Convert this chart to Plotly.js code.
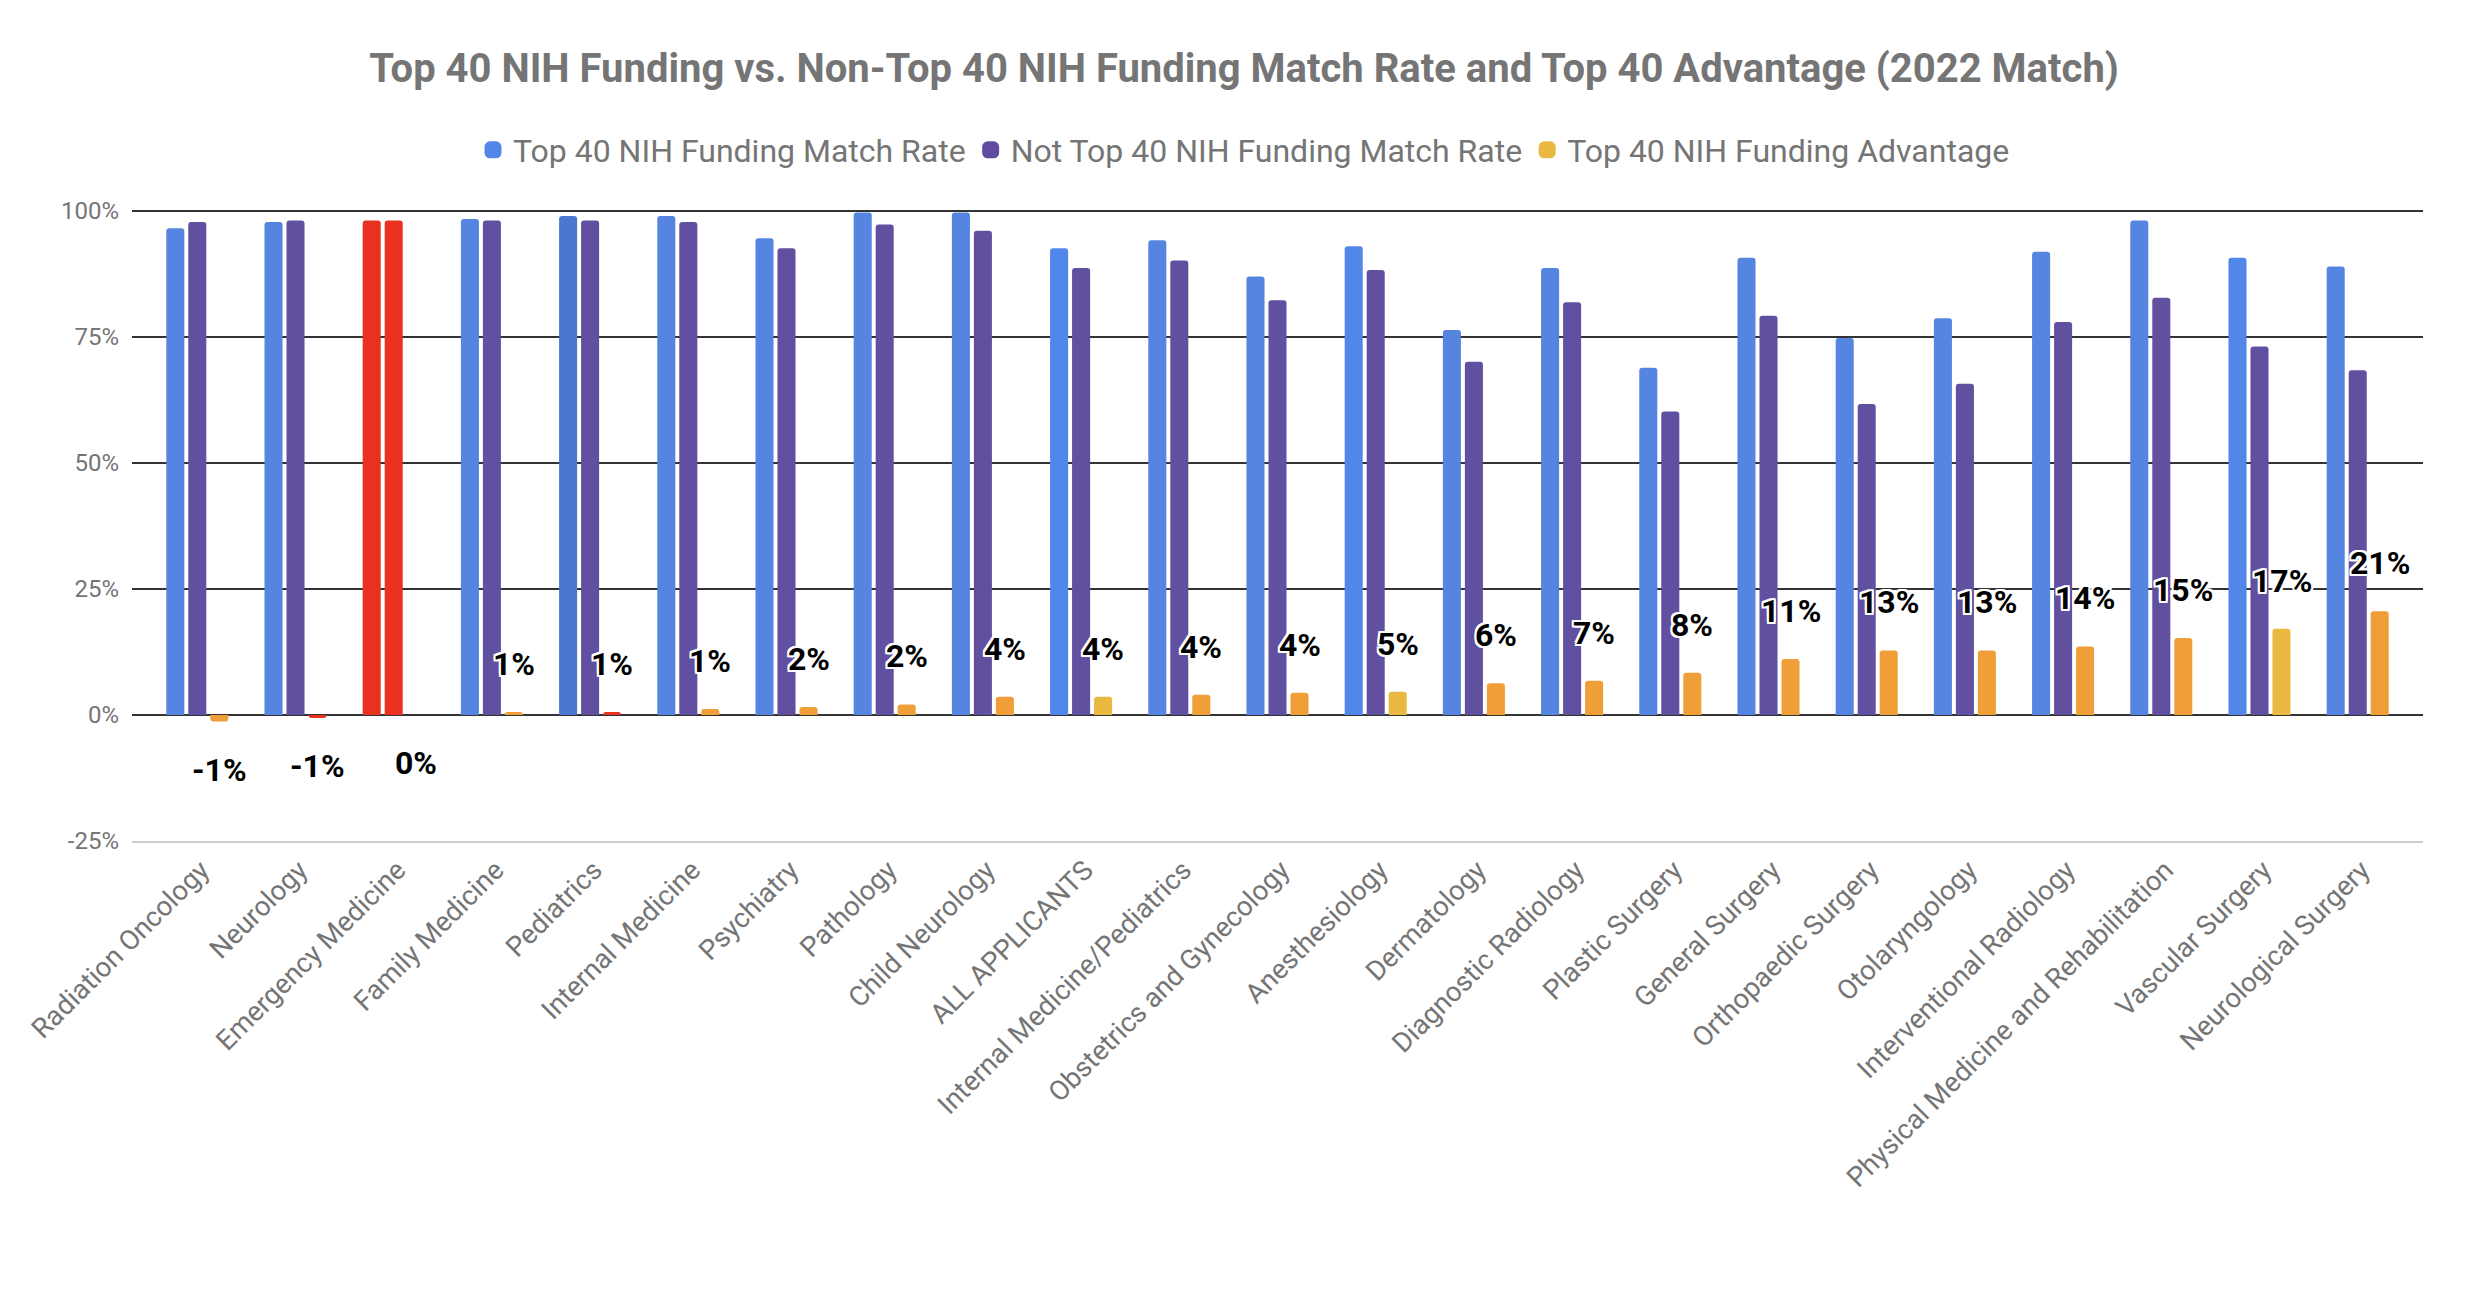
<!DOCTYPE html>
<html>
<head>
<meta charset="utf-8">
<script src="https://cdn.plot.ly/plotly-3.0.1.min.js"></script>
<style>
  html, body { margin: 0; padding: 0; background: #fff; }
  #chart { width: 2488px; height: 1312px; }
</style>
</head>
<body>
<div id="chart"></div>
<script>
// ---------------- DATA ----------------
const categories = [
  "Radiation Oncology", "Neurology", "Emergency Medicine", "Family Medicine",
  "Pediatrics", "Internal Medicine", "Psychiatry", "Pathology", "Child Neurology",
  "ALL APPLICANTS", "Internal Medicine/Pediatrics", "Obstetrics and Gynecology",
  "Anesthesiology", "Dermatology", "Diagnostic Radiology", "Plastic Surgery",
  "General Surgery", "Orthopaedic Surgery", "Otolaryngology",
  "Interventional Radiology", "Physical Medicine and Rehabilitation",
  "Vascular Surgery", "Neurological Surgery"
];

const seriesNames = [
  "Top 40 NIH Funding Match Rate",
  "Not Top 40 NIH Funding Match Rate",
  "Top 40 NIH Funding Advantage"
];

// values in percent
const top40Rate = [96.6, 97.8, 98.1, 98.4, 99.0, 99.0, 94.6, 99.7, 99.7, 92.6, 94.2, 87.0,
                   93.0, 76.4, 88.7, 68.9, 90.7, 74.8, 78.7, 91.9, 98.1, 90.7, 89.0];
const notTop40Rate = [97.8, 98.1, 98.1, 98.1, 98.1, 97.8, 92.6, 97.3, 96.1, 88.7, 90.2, 82.3,
                      88.3, 70.1, 81.9, 60.2, 79.2, 61.7, 65.7, 78.0, 82.8, 73.1, 68.4];
const advantage = [-1.3, -0.6, 0.0, 0.6, 0.6, 1.2, 1.6, 2.1, 3.6, 3.6, 4.0, 4.4,
                   4.6, 6.3, 6.8, 8.4, 11.1, 12.8, 12.8, 13.6, 15.3, 17.1, 20.6];

const yTickVals = [-25, 0, 25, 50, 75, 100];
const yTickText = ["-25%", "0%", "25%", "50%", "75%", "100%"];

// ---------------- STYLE ----------------
const C_BLUE = "#5585e0", C_BLUE_DEF = "#5287ea", C_BLUE_DARK = "#4a78cf";
const C_PURPLE = "#614fa0", C_PURPLE_DEF = "#5f4b9f";
const C_ORANGE = "#f09e38", C_YELLOW = "#e9b941", C_RED = "#e8321f";
const legendColors = [C_BLUE_DEF, C_PURPLE_DEF, C_YELLOW];

const redIdx = new Set([2]);
const advRedIdx = new Set([1, 4]);
const defaultIdx = new Set([9, 12, 21]);

const blueColors = categories.map((c, i) =>
  redIdx.has(i) ? C_RED : (i === 4 ? C_BLUE_DARK : (defaultIdx.has(i) ? C_BLUE_DEF : C_BLUE)));
const purpleColors = categories.map((c, i) => redIdx.has(i) ? C_RED : C_PURPLE);
const advColors = categories.map((c, i) =>
  advRedIdx.has(i) ? C_RED : (defaultIdx.has(i) ? C_YELLOW : C_ORANGE));

const seriesValues = [top40Rate, notTop40Rate, advantage];
const seriesColors = [blueColors, purpleColors, advColors];

const traces = [];
// legend proxies (carry the series' default colours in the legend)
seriesNames.forEach((name, k) => {
  traces.push({
    type: "bar", name: name, x: [categories[0]], y: [null],
    offsetgroup: String(k),
    marker: { color: legendColors[k], line: { color: legendColors[k], width: 5 } },
    showlegend: true, hoverinfo: "skip"
  });
});
seriesNames.forEach((name, k) => {
  traces.push({
    type: "bar", name: name, x: categories, y: seriesValues[k],
    offsetgroup: String(k), marker: { color: seriesColors[k] },
    showlegend: false
  });
});

const labelFont = {
  family: "Roboto, Arial, sans-serif", size: 32, color: "#000000", weight: 700,
  shadow: "2px 2px 0 #fff, -2px -2px 0 #fff, 2px -2px 0 #fff, -2px 2px 0 #fff, 0 2px 0 #fff, 0 -2px 0 #fff, 2px 0 0 #fff, -2px 0 0 #fff"
};

const annotations = categories.map((c, i) => ({
  xref: "x", yref: "y", x: c, y: advantage[i],
  text: Math.round(advantage[i]) + "%",
  showarrow: false, xanchor: "center", yanchor: "middle",
  xshift: 22, yshift: advantage[i] > 0 ? 48 : -48,
  font: labelFont
}));

const layout = {
  width: 2488, height: 1312,
  paper_bgcolor: "#ffffff", plot_bgcolor: "#ffffff",
  margin: { l: 132, r: 65, t: 211, b: 471 },
  font: { family: "Roboto, Arial, sans-serif", color: "#757575" },
  title: {
    text: "Top 40 NIH Funding vs. Non-Top 40 NIH Funding Match Rate and Top 40 Advantage (2022 Match)",
    font: { family: "Roboto, Arial, sans-serif", size: 40, color: "#757575", weight: 700 },
    xref: "container", x: 0.5, xanchor: "center",
    yref: "container", y: 1 - 68 / 1312, yanchor: "middle"
  },
  showlegend: true,
  legend: {
    orientation: "h", xref: "container", x: 0.5, xanchor: "center",
    yref: "container", y: 1 - 150 / 1312, yanchor: "middle",
    font: { family: "Roboto, Arial, sans-serif", size: 32, color: "#757575" },
    itemclick: false, traceorder: "normal"
  },
  barmode: "group",
  bargap: 0.328,
  bargroupgap: 0.18,
  barcornerradius: 3,
  xaxis: {
    type: "category",
    range: [-0.665, categories.length - 1 + 0.665],
    tickangle: -45,
    tickfont: { family: "Roboto, Arial, sans-serif", size: 27.5, color: "#757575" },
    ticklabelshift: 4,
    showgrid: false, zeroline: false,
    showline: true, linecolor: "#cccccc", linewidth: 2,
    ticks: "", automargin: false
  },
  yaxis: {
    range: [-25, 100],
    tickmode: "array",
    tickvals: yTickVals,
    ticktext: yTickText,
    tickfont: { family: "Roboto, Arial, sans-serif", size: 24, color: "#757575" },
    showgrid: true, gridcolor: "#333333", gridwidth: 2,
    zeroline: true, zerolinecolor: "#333333", zerolinewidth: 2,
    showline: false, ticks: "", ticklabelstandoff: 12, automargin: false
  },
  shapes: [{
    type: "line", xref: "paper", yref: "paper", x0: 0, x1: 1, y0: 1, y1: 1,
    line: { color: "#333333", width: 2 }, layer: "below"
  }],
  annotations: annotations
};

Plotly.newPlot("chart", traces, layout, { displayModeBar: false, staticPlot: true });
</script>
</body>
</html>
